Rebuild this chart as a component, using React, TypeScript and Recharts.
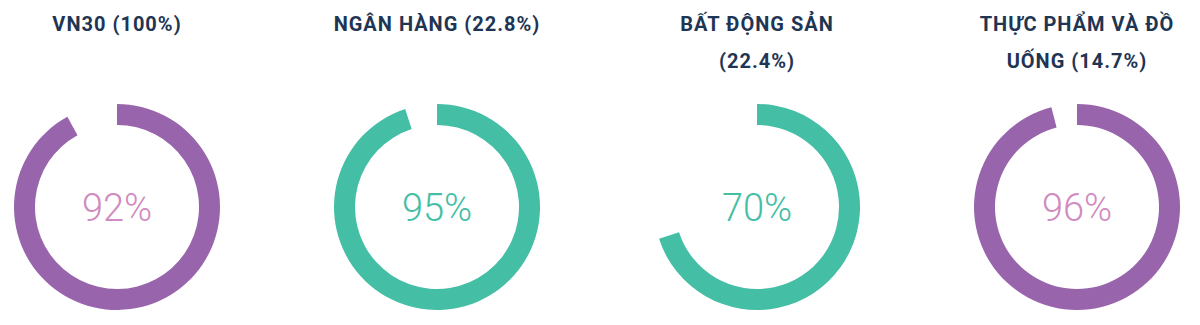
import { PieChart, Pie, Cell } from "recharts"

const titles = ["VN30 (100%)", "NGÂN HÀNG (22.8%)", "BẤT ĐỘNG SẢN (22.4%)", "THỰC PHẨM VÀ ĐỒ UỐNG (14.7%)"]
const scores = [92, 95, 70, 96]
const ringColors = ["#9865AC", "#44BEA4", "#44BEA4", "#9865AC"]
const labelColors = ["#D08BBF", "#44BEA4", "#44BEA4", "#D08BBF"]

const centers = [117, 437, 757, 1077]
const CY = 207
const BOX_W = 240
const BOX_H = 230

function Gauge({ i }: { i: number }) {
  const data = [
    { name: "score", value: scores[i] },
    { name: "rest", value: 100 - scores[i] },
  ]
  return (
    <div style={{ position: "absolute", left: centers[i] - BOX_W / 2, top: CY - BOX_H / 2, width: BOX_W, height: BOX_H }}>
      <PieChart width={BOX_W} height={BOX_H} margin={{ top: 0, right: 0, bottom: 0, left: 0 }}>
        <Pie
          data={data}
          dataKey="value"
          cx={BOX_W / 2}
          cy={BOX_H / 2}
          innerRadius={82}
          outerRadius={103}
          startAngle={90}
          endAngle={-270}
          stroke="none"
          isAnimationActive={false}
        >
          <Cell fill={ringColors[i]} />
          <Cell fill="transparent" />
        </Pie>
      </PieChart>
      <div
        style={{
          position: "absolute",
          left: 0,
          top: 1,
          width: BOX_W,
          height: BOX_H,
          display: "flex",
          alignItems: "center",
          justifyContent: "center",
          fontSize: 38,
          fontWeight: 300,
          color: labelColors[i],
          pointerEvents: "none",
        }}
      >
        {scores[i]}%
      </div>
    </div>
  )
}

export default function App() {
  return (
    <div
      style={{
        position: "relative",
        width: 1200,
        height: 325,
        margin: -8,
        background: "#fff",
        fontFamily: "Roboto, 'Noto Sans', sans-serif",
        overflow: "hidden",
      }}
    >
      {titles.map((t, i) => (
        <div
          key={t}
          style={{
            position: "absolute",
            left: centers[i] - 112,
            top: 6,
            width: 224,
            textAlign: "center",
            fontSize: 20,
            fontWeight: 700,
            letterSpacing: 1,
            lineHeight: "37px",
            color: "#1E3553",
          }}
        >
          {t}
        </div>
      ))}
      {scores.map((_, i) => (
        <Gauge key={i} i={i} />
      ))}
    </div>
  )
}
